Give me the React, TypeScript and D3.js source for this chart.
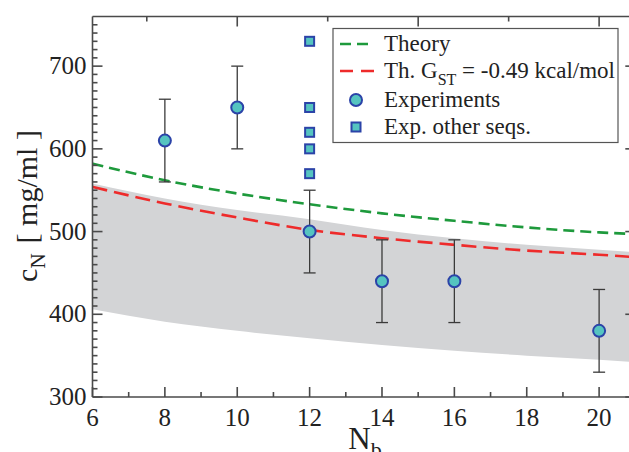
import React, { useEffect, useRef } from 'react';
import * as d3 from 'd3';

// experiments (circles with error bars)
const expN = [8, 10, 12, 14, 16, 20];
const expC = [610, 650, 500, 440, 440, 380];
const expErr = [50, 50, 50, 50, 50, 50];

// other sequences (squares), all at N_b = 12
const otherN = [12, 12, 12, 12, 12];
const otherC = [730, 650, 620, 600, 570];

// curves
const curveN = [6, 8, 10, 12, 14, 16, 18, 20, 21];
const theoryC = [582, 562, 546, 533, 522, 513, 505, 499, 497];
const gstC = [554, 534, 517, 502, 492, 484, 477, 472, 469];
const bandTop = [558, 540, 526, 515, 502, 492, 484, 478, 475];
const bandBottom = [406, 391, 380, 371, 363, 356, 350, 345, 342];

const yTicks = [300, 400, 500, 600, 700];
const xTicks = [6, 8, 10, 12, 14, 16, 18, 20];

const App = () => {
  const ref = useRef<SVGSVGElement>(null);

  useEffect(() => {
    const svg = d3.select(ref.current);
    svg.selectAll('*').remove();

    const left = 92.5;
    const right = 635.3;
    const top = 16.5;
    const bottom = 397;
    const font = "'Liberation Serif', 'Times New Roman', Times, serif";
    const axisColor = '#4a4a4a';

    const x = d3.scaleLinear().domain([6, 21]).range([left, right]);
    const y = d3.scaleLinear().domain([300, 760]).range([bottom, top]);

    // gray band
    const area = d3.area<number>()
      .x((d, i) => x(curveN[i]))
      .y0((d, i) => y(bandBottom[i]))
      .y1((d, i) => y(bandTop[i]))
      .curve(d3.curveMonotoneX);
    svg.append('path')
      .attr('d', area(curveN))
      .attr('fill', '#d3d4d6');

    const line = (vals: number[]) => d3.line<number>()
      .x((d, i) => x(curveN[i]))
      .y((d, i) => y(vals[i]))
      .curve(d3.curveMonotoneX)(curveN);

    svg.append('path')
      .attr('d', line(theoryC))
      .attr('fill', 'none')
      .attr('stroke', '#1e9a3c')
      .attr('stroke-width', 2.6)
      .attr('stroke-dasharray', '11,6');

    svg.append('path')
      .attr('d', line(gstC))
      .attr('fill', 'none')
      .attr('stroke', '#ee2b2b')
      .attr('stroke-width', 2.6)
      .attr('stroke-dasharray', '15,7');

    // axes frame
    const ax = svg.append('g').attr('stroke', axisColor).attr('stroke-width', 1.6);
    ax.append('line').attr('x1', left).attr('x2', right).attr('y1', bottom).attr('y2', bottom);
    ax.append('line').attr('x1', left).attr('x2', right).attr('y1', top).attr('y2', top);
    ax.append('line').attr('x1', left).attr('x2', left).attr('y1', top).attr('y2', bottom);
    ax.append('line').attr('x1', right).attr('x2', right).attr('y1', top).attr('y2', bottom);

    // bottom ticks
    d3.range(6, 21.01, 1).forEach(v => {
      const major = v % 2 === 0;
      ax.append('line')
        .attr('x1', x(v)).attr('x2', x(v))
        .attr('y1', bottom).attr('y2', bottom - (major ? 10 : 5));
    });
    // top ticks (step 2.5)
    d3.range(7.5, 21, 2.5).forEach(v => {
      const major = v % 5 === 0;
      ax.append('line')
        .attr('x1', x(v)).attr('x2', x(v))
        .attr('y1', top).attr('y2', top + (major ? 10 : 5));
    });
    // left ticks
    d3.range(300, 760, 10).forEach(v => {
      const major = v % 100 === 0;
      ax.append('line')
        .attr('x1', left).attr('x2', left + (major ? 10 : 5))
        .attr('y1', y(v)).attr('y2', y(v));
    });
    // right ticks
    yTicks.forEach(v => {
      ax.append('line')
        .attr('x1', right).attr('x2', right - 10)
        .attr('y1', y(v)).attr('y2', y(v));
    });

    // tick labels
    svg.append('g')
      .selectAll('text')
      .data(yTicks)
      .enter()
      .append('text')
      .attr('x', left - 6)
      .attr('y', d => y(d) + 8)
      .attr('text-anchor', 'end')
      .style('font-family', font)
      .attr('font-size', 25)
      .attr('fill', '#222')
      .text(d => d);

    svg.append('g')
      .selectAll('text')
      .data(xTicks)
      .enter()
      .append('text')
      .attr('x', d => x(d))
      .attr('y', 426)
      .attr('text-anchor', 'middle')
      .style('font-family', font)
      .attr('font-size', 25)
      .attr('fill', '#222')
      .text(d => d);

    // axis titles
    const xl = svg.append('text')
      .attr('x', 365)
      .attr('y', 449)
      .attr('text-anchor', 'middle')
      .style('font-family', font)
      .attr('font-size', 31)
      .attr('fill', '#222');
    xl.append('tspan').text('N');
    xl.append('tspan').attr('font-size', 22).attr('dy', 8).text('b');

    const yl = svg.append('text')
      .attr('transform', 'translate(37,206) rotate(-90)')
      .attr('text-anchor', 'middle')
      .style('font-family', font)
      .attr('font-size', 30)
      .attr('fill', '#222');
    yl.append('tspan').text('c');
    yl.append('tspan').attr('font-size', 21).attr('dy', 8).text('N');
    yl.append('tspan').attr('dy', -8).attr('dx', 10).text('[ mg/ml ]');

    // error bars
    const eb = svg.append('g').attr('stroke', '#3a3a3a').attr('stroke-width', 1.3);
    expN.forEach((n, i) => {
      const cx = x(n);
      const y1 = y(expC[i] + expErr[i]);
      const y2 = y(expC[i] - expErr[i]);
      eb.append('line').attr('x1', cx).attr('x2', cx).attr('y1', y1).attr('y2', y2);
      eb.append('line').attr('x1', cx - 6).attr('x2', cx + 6).attr('y1', y1).attr('y2', y1);
      eb.append('line').attr('x1', cx - 6).attr('x2', cx + 6).attr('y1', y2).attr('y2', y2);
    });

    const fill = '#55c4c0';
    const edge = '#2b43a8';

    svg.append('g')
      .selectAll('circle')
      .data(expN)
      .enter()
      .append('circle')
      .attr('cx', d => x(d))
      .attr('cy', (d, i) => y(expC[i]))
      .attr('r', 6)
      .attr('fill', fill)
      .attr('stroke', edge)
      .attr('stroke-width', 2);

    svg.append('g')
      .selectAll('rect')
      .data(otherN)
      .enter()
      .append('rect')
      .attr('x', d => x(d) - 4.5)
      .attr('y', (d, i) => y(otherC[i]) - 4.5)
      .attr('width', 9)
      .attr('height', 9)
      .attr('fill', fill)
      .attr('stroke', edge)
      .attr('stroke-width', 2);

    // legend
    const lg = svg.append('g');
    lg.append('rect')
      .attr('x', 333).attr('y', 28.5)
      .attr('width', 285).attr('height', 114)
      .attr('fill', 'white')
      .attr('stroke', '#555')
      .attr('stroke-width', 1.2);

    const rowY = [44, 71, 100, 127];
    lg.append('line').attr('x1', 340).attr('x2', 373).attr('y1', rowY[0]).attr('y2', rowY[0])
      .attr('stroke', '#1e9a3c').attr('stroke-width', 2.6).attr('stroke-dasharray', '11,6');
    lg.append('line').attr('x1', 340).attr('x2', 376).attr('y1', rowY[1]).attr('y2', rowY[1])
      .attr('stroke', '#ee2b2b').attr('stroke-width', 2.6).attr('stroke-dasharray', '13,8');
    lg.append('circle').attr('cx', 356).attr('cy', rowY[2]).attr('r', 6)
      .attr('fill', fill).attr('stroke', edge).attr('stroke-width', 2);
    lg.append('rect').attr('x', 351.5).attr('y', rowY[3] - 4.5).attr('width', 9).attr('height', 9)
      .attr('fill', fill).attr('stroke', edge).attr('stroke-width', 2);

    const lt = (i: number) => lg.append('text')
      .attr('x', 384)
      .attr('y', rowY[i] + 7)
      .style('font-family', font)
      .attr('font-size', 23)
      .attr('fill', '#222');
    lt(0).text('Theory');
    const t1 = lt(1);
    t1.append('tspan').text('Th. G');
    t1.append('tspan').attr('font-size', 16).attr('dy', 7).text('ST');
    t1.append('tspan').attr('dy', -7).text(' = -0.49 kcal/mol');
    lt(2).text('Experiments');
    lt(3).text('Exp. other seqs.');
  }, []);

  return (
    <svg
      ref={ref}
      width={629}
      height={452}
      style={{ position: 'absolute', left: 0, top: 0, background: 'white' }}
    />
  );
};

export default App;
